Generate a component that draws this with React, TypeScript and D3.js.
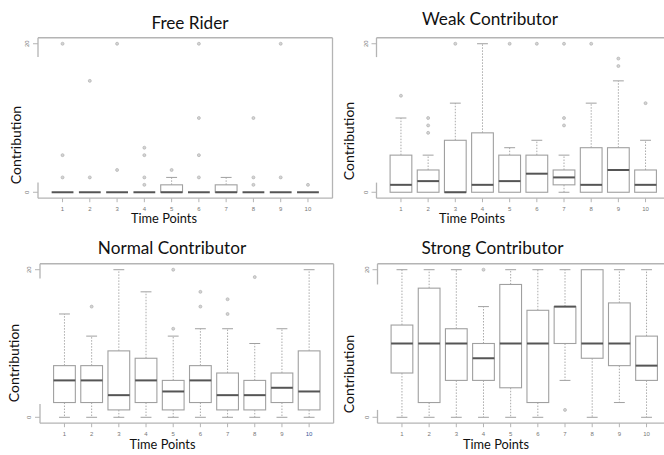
import React from 'react';
import * as d3 from 'd3';

type Box = [number, number, number, number, number]; // lo whisker, q1, median, q3, hi whisker

const timePoints = [1, 2, 3, 4, 5, 6, 7, 8, 9, 10];
const yTicks = [0, 20];

const freeRiderBoxes: Box[] = [
  [0, 0, 0, 0, 0], [0, 0, 0, 0, 0], [0, 0, 0, 0, 0], [0, 0, 0, 0, 0], [0, 0, 0, 1, 2],
  [0, 0, 0, 0, 0], [0, 0, 0, 1, 2], [0, 0, 0, 0, 0], [0, 0, 0, 0, 0], [0, 0, 0, 0, 0],
];
const freeRiderOutliers: number[][] = [
  [20, 5, 2], [15, 2], [20, 3], [6, 5, 2, 1], [3], [20, 10, 5, 2], [], [10, 2, 1], [20, 2], [1],
];

const weakBoxes: Box[] = [
  [0, 0, 1, 5, 10], [0, 0, 1.5, 3, 5], [0, 0, 0, 7, 12], [0, 0, 1, 8, 20], [0, 0, 1.5, 5, 6],
  [0, 0, 2.5, 5, 7], [0, 1, 2, 3, 5], [0, 0, 1, 6, 12], [0, 0, 3, 6, 15], [0, 0, 1, 3, 7],
];
const weakOutliers: number[][] = [
  [13], [10, 9, 8], [20], [], [20], [20], [20, 10, 9], [20], [18, 17], [12],
];

const normalBoxes: Box[] = [
  [0, 2, 5, 7, 14], [0, 2, 5, 7, 11], [0, 1, 3, 9, 20], [0, 2, 5, 8, 17], [0, 1, 3.5, 5, 11],
  [0, 2, 5, 7, 12], [0, 1, 3, 6, 12], [0, 1, 3, 5, 10], [0, 2, 4, 6, 12], [0, 1, 3.5, 9, 20],
];
const normalOutliers: number[][] = [
  [], [15], [], [], [20, 12], [17, 15], [16, 14], [19], [], [],
];

const strongBoxes: Box[] = [
  [0, 6, 10, 12.5, 20], [0, 2, 10, 17.5, 20], [0, 5, 10, 12, 20], [0, 5, 8, 10, 15], [0, 4, 10, 18, 20],
  [0, 2, 10, 14.5, 20], [5, 10, 15, 15, 20], [0, 8, 10, 20, 20], [2, 7, 10, 15.5, 20], [0, 5, 7, 11, 20],
];
const strongOutliers: number[][] = [
  [], [], [], [20], [], [], [1], [], [], [],
];

type Panel = {
  title: string;
  boxes: Box[];
  outliers: number[][];
  left: number; right: number; top: number; bottom: number;
  titleX: number; titleY: number;
  xLabX: number; xLabY: number;
  yLabX: number; yLabY: number;
  gapTop: number; gapBottom: number; // left frame line is missing between these values
  lastTickColor?: string;
};

const panels: Panel[] = [
  { title: 'Free Rider', boxes: freeRiderBoxes, outliers: freeRiderOutliers,
    left: 38, right: 332.5, top: 37.8, bottom: 198.2,
    titleX: 190, titleY: 29, xLabX: 164, xLabY: 223, yLabX: 21, yLabY: 145,
    gapTop: 18.2, gapBottom: 1.3 },
  { title: 'Weak Contributor', boxes: weakBoxes, outliers: weakOutliers,
    left: 376.5, right: 670, top: 37.8, bottom: 198.2,
    titleX: 490, titleY: 25, xLabX: 472, xLabY: 223, yLabX: 354, yLabY: 141,
    gapTop: 18.2, gapBottom: 1.3 },
  { title: 'Normal Contributor', boxes: normalBoxes, outliers: normalOutliers,
    left: 40, right: 333.6, top: 263.8, bottom: 423.2,
    titleX: 172, titleY: 254, xLabX: 162.5, xLabY: 448.5, yLabX: 19, yLabY: 363,
    gapTop: 18.8, gapBottom: 1.8, lastTickColor: '#3b5a9a' },
  { title: 'Strong Contributor', boxes: strongBoxes, outliers: strongOutliers,
    left: 377.5, right: 671, top: 263.8, bottom: 423.2,
    titleX: 492.5, titleY: 254, xLabX: 496, xLabY: 448.5, yLabX: 354, yLabY: 374,
    gapTop: 18, gapBottom: 1 },
];

const FONT = 'Lato, "Open Sans", sans-serif';
const FRAME = '#b4b4b4';
const BOX = '#a0a0a0';
const MED = '#555555';

function BoxPanel({ p }: { p: Panel }) {
  const x = d3.scaleLinear().domain([0.1, 10.9]).range([p.left, p.right]);
  const y = d3.scaleLinear().domain([-0.8, 20.8]).range([p.bottom, p.top]);
  const bw = x(1.4) - x(0.6);
  const capW = bw / 2;

  return (
    <g>
      <text x={p.titleX} y={p.titleY} textAnchor="middle" fontSize={17.2} fontFamily={FONT} fill="#111">
        {p.title}
      </text>

      {/* frame */}
      <line x1={p.left} x2={p.right} y1={p.top} y2={p.top} stroke={FRAME} strokeWidth={1.6} />
      <line x1={p.right} x2={p.right} y1={p.top} y2={p.bottom} stroke={FRAME} strokeWidth={1.3} />
      <line x1={p.left} x2={p.right} y1={p.bottom} y2={p.bottom} stroke={FRAME} strokeWidth={1.3} />
      <line x1={p.left} x2={p.left} y1={p.top} y2={y(p.gapTop)} stroke={FRAME} strokeWidth={1.3} />
      <line x1={p.left} x2={p.left} y1={y(p.gapBottom)} y2={p.bottom} stroke={FRAME} strokeWidth={1.3} />

      {/* y ticks */}
      {yTicks.map((t) => (
        <g key={t}>
          <line x1={p.left - 5} x2={p.left} y1={y(t)} y2={y(t)} stroke={FRAME} strokeWidth={1} />
          <text transform={`translate(${p.left - 9},${y(t)}) rotate(-90)`} textAnchor="middle"
            fontSize={6} fontFamily="Arial, sans-serif" fill="#777">{t}</text>
        </g>
      ))}

      {/* x ticks */}
      {timePoints.map((t, i) => (
        <g key={t}>
          <line x1={x(t)} x2={x(t)} y1={p.bottom} y2={p.bottom + 4} stroke={FRAME} strokeWidth={1} />
          <text x={x(t)} y={p.bottom + 12.5} textAnchor="middle" fontSize={6} fontFamily="Arial, sans-serif"
            fill={i === timePoints.length - 1 && p.lastTickColor ? p.lastTickColor : '#777'}>{t}</text>
        </g>
      ))}

      {/* boxes */}
      {p.boxes.map((b, i) => {
        const cx = x(timePoints[i]);
        const [lo, q1, med, q3, hi] = b;
        return (
          <g key={i}>
            {hi > q3 && (
              <>
                <line x1={cx} x2={cx} y1={y(q3)} y2={y(hi)} stroke="#aaa" strokeWidth={1} strokeDasharray="1.5,1.5" />
                <line x1={cx - capW / 2} x2={cx + capW / 2} y1={y(hi)} y2={y(hi)} stroke={BOX} strokeWidth={1} />
              </>
            )}
            {lo < q1 && (
              <>
                <line x1={cx} x2={cx} y1={y(q1)} y2={y(lo)} stroke="#aaa" strokeWidth={1} strokeDasharray="1.5,1.5" />
                <line x1={cx - capW / 2} x2={cx + capW / 2} y1={y(lo)} y2={y(lo)} stroke={BOX} strokeWidth={1} />
              </>
            )}
            {q3 > q1 && (
              <rect x={cx - bw / 2} y={y(q3)} width={bw} height={y(q1) - y(q3)} fill="#fff" stroke={BOX} strokeWidth={1.1} />
            )}
            <line x1={cx - bw / 2} x2={cx + bw / 2} y1={y(med)} y2={y(med)} stroke={MED} strokeWidth={2} />
            {p.outliers[i].map((o, j) => (
              <circle key={j} cx={cx} cy={y(o)} r={1.5} fill="#d4d4d4" stroke="#aaa" strokeWidth={0.6} />
            ))}
          </g>
        );
      })}

      <text x={p.xLabX} y={p.xLabY} textAnchor="middle" fontSize={12.8} fontFamily={FONT} fill="#111">Time Points</text>
      <text transform={`translate(${p.yLabX},${p.yLabY}) rotate(-90)`} textAnchor="middle" fontSize={14}
        fontFamily={FONT} fill="#111">Contribution</text>
    </g>
  );
}

export default function App() {
  return (
    <svg width={664} height={455} viewBox="0 0 664 455"
      style={{ position: 'absolute', left: 0, top: 0, background: '#fff' }}>
      <rect width={664} height={455} fill="#fff" />
      {panels.map((p) => <BoxPanel key={p.title} p={p} />)}
    </svg>
  );
}
